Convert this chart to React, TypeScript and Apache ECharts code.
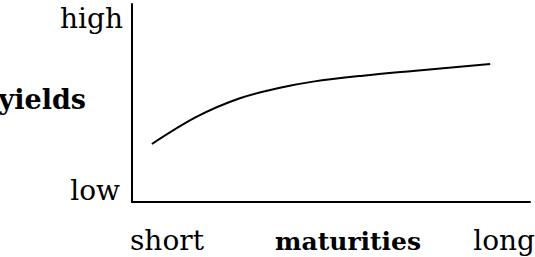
import React, { useEffect, useRef } from "react";
import * as echarts from "echarts";

const maturity = [5, 16.3, 27.1, 37.2, 45.5, 58, 70.6, 90];
const yieldValues = [29.3, 43.1, 52.4, 57.7, 60.8, 63.8, 66.2, 69.7];
const yLabels = ["low", "high"];
const xLabels = ["short", "long"];
const yTitle = "yields";
const xTitle = "maturities";

const FONT = "DejaVu Serif";

export default function App() {
  const ref = useRef<HTMLDivElement>(null);
  useEffect(() => {
    if (!ref.current) return;
    const chart = echarts.init(ref.current, null, { renderer: "svg" });
    const ts = (t: string, size: number, bold = false, align = "left") => ({
      text: t,
      font: `${bold ? "bold " : ""}${size}px "${FONT}"`,
      fill: "#000",
      textAlign: align,
      textVerticalAlign: "middle",
    });
    chart.setOption({
      animation: false,
      backgroundColor: "#fff",
      grid: { left: 132, right: 5, top: 4, bottom: 55 },
      xAxis: {
        type: "value",
        min: 0,
        max: 100,
        axisLine: { show: true, onZero: false, lineStyle: { color: "#000", width: 2 } },
        axisTick: { show: false },
        axisLabel: { show: false },
        splitLine: { show: false },
      },
      yAxis: {
        type: "value",
        min: 0,
        max: 100,
        axisLine: { show: true, lineStyle: { color: "#000", width: 2 } },
        axisTick: { show: false },
        axisLabel: { show: false },
        splitLine: { show: false },
      },
      series: [
        {
          type: "line",
          smooth: 0.35,
          symbol: "none",
          lineStyle: { color: "#000", width: 2 },
          data: maturity.map((m, i) => [m, yieldValues[i]]),
        },
      ],
      graphic: [
        { type: "text", x: 123, y: 18, style: ts(yLabels[1], 28, false, "right") },
        { type: "text", x: 120, y: 190, style: ts(yLabels[0], 28, false, "right") },
        { type: "text", x: 86, y: 99, style: ts(yTitle, 27, true, "right") },
        { type: "text", x: 130, y: 240, style: ts(xLabels[0], 28) },
        { type: "text", x: 275, y: 241, style: ts(xTitle, 25, true) },
        { type: "text", x: 535, y: 240, style: ts(xLabels[1], 28, false, "right") },
      ],
    });
    return () => chart.dispose();
  }, []);
  return <div ref={ref} style={{ width: 535, height: 257, position: "fixed", left: 0, top: 0 }} />;
}
